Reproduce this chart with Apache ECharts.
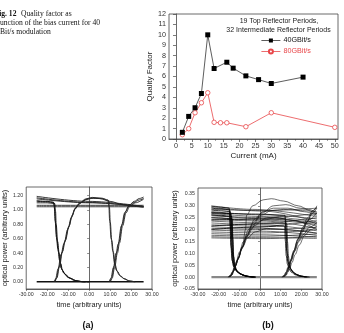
<!DOCTYPE html>
<html><head><meta charset="utf-8">
<script src="https://cdn.jsdelivr.net/npm/echarts@6/dist/echarts.min.js"></script>
<style>html,body{margin:0;padding:0;background:#fff;}#c{width:344px;height:333px;}</style>
</head><body><div id="c"></div>
<script>
// ---- Fig. 12 data ----
const currents40 = [2,4,6,8,10,12,16,18,22,26,30,40];
const quality40 = [0.64,2.17,3.0,4.37,10.0,6.77,7.37,6.8,6.06,5.7,5.33,5.94];
const currents80 = [2,4,6,8,10,12,14,16,22,30,50];
const quality80 = [0.41,0.99,2.52,3.48,4.44,1.6,1.56,1.56,1.18,2.52,1.12];
const currentTicks = [0,5,10,15,20,25,30,35,40,45,50];
const currentMinor = [2.5,7.5,12.5,17.5,22.5,27.5,32.5,37.5,42.5,47.5];
const timeTicks = [-30,-20,-10,0,10,20,30];
const powerTicksA = [0,0.2,0.4,0.6,0.8,1.0,1.2];
const powerTicksB = [-0.05,0,0.05,0.1,0.15,0.2,0.25,0.3,0.35];

// ---- eye diagram (a) traces: [time, power] ----
const eyeA_zero = [[[-25,0],[26,0]]];
const eyeA_high = [
 [[-25,1.19],[0,1.12],[26,1.05]],
 [[-25,1.17],[0,1.105],[26,1.04]],
 [[-25,1.155],[0,1.1],[26,1.05]],
 [[-25,1.065],[26,1.065]],
 [[-25,1.045],[26,1.045]]
];
const eyeA_fall = [
 [[-25,1.13],[-20,1.12],[-17,1.11],[-16.6,1.04],[-16.2,0.85],[-15.6,0.62],[-14.9,0.46],[-14.1,0.3],[-13.3,0.19],[-12,0.12],[-10,0.06],[-7,0.02],[-4,0.003],[-2,0]],
 [[-25,1.12],[-20,1.115],[-16.8,1.1],[-16.4,1.0],[-16.0,0.82],[-15.3,0.58],[-14.6,0.42],[-13.8,0.27],[-13,0.17],[-11.6,0.11],[-9.5,0.055],[-6.5,0.018],[-3.5,0.002],[-1.5,0]],
 [[-25,1.1],[-20,1.1],[-16.4,1.09],[-16.0,0.98],[-15.7,0.8],[-15,0.56],[-14.3,0.4],[-13.5,0.25],[-12.7,0.16],[-11.3,0.1],[-9,0.05],[-6,0.015],[-3,0.001],[-1,0]]
];
const eyeA_rise = [
 [[-16.8,0],[-16,0.04],[-14.8,0.18],[-13.4,0.38],[-12,0.53],[-10.2,0.73],[-8.5,0.89],[-7,1.0],[-5,1.08],[-2,1.14],[1,1.165],[5,1.16],[10,1.12],[16,1.075],[21,1.05],[26,1.04]],
 [[-16.4,0],[-15.6,0.05],[-14.4,0.2],[-13,0.4],[-11.6,0.56],[-9.8,0.76],[-8.2,0.91],[-6.7,1.02],[-4.5,1.1],[-1.5,1.155],[1.5,1.175],[6,1.165],[9,1.14],[9.4,1.06],[9.8,0.85],[10.5,0.6],[11.3,0.43],[12.1,0.26],[13,0.16],[14.5,0.09],[16.5,0.045],[19,0.013],[21.5,0]],
 [[-16.2,0],[-15.3,0.06],[-14.1,0.22],[-12.7,0.42],[-11.3,0.58],[-9.5,0.78],[-8,0.93],[-6.5,1.03],[-4,1.1],[-1,1.15],[2,1.165],[6.5,1.155],[9.3,1.13],[9.7,1.04],[10.1,0.83],[10.8,0.58],[11.6,0.41],[12.4,0.24],[13.4,0.15],[15,0.08],[17,0.04],[19.5,0.01],[22,0]],
 [[9.6,0],[10.4,0.05],[11.6,0.2],[12.9,0.4],[13.8,0.52],[15.4,0.78],[17,0.96],[18.8,1.05],[21,1.1],[24,1.14],[26,1.16]],
 [[10,0],[10.8,0.06],[12,0.22],[13.3,0.42],[14.2,0.55],[15.8,0.8],[17.4,0.98],[19.2,1.07],[21.5,1.12],[24,1.16],[26,1.18]],
 [[10.2,0],[11,0.05],[12.2,0.2],[13.5,0.4],[14.5,0.54],[16,0.78],[17.6,0.96],[19.4,1.05],[22,1.1],[26,1.15]]
];

// ---- eye diagram (b) traces ----
const eyeB_zero = [[[-23.5,0],[27.5,0]]];
const eyeB_high = [
 [[-23.5,0.300],[-3.5,0.285],[27.5,0.255]],
 [[-23.5,0.293],[1.5,0.278],[27.5,0.232]],
 [[-23.5,0.285],[1.5,0.280],[27.5,0.290]],
 [[-23.5,0.276],[1.5,0.262],[27.5,0.245]],
 [[-23.5,0.268],[1.5,0.255],[27.5,0.215]],
 [[-23.5,0.262],[1.5,0.245],[27.5,0.228]],
 [[-23.5,0.258],[1.5,0.250],[27.5,0.268]],
 [[-23.5,0.250],[1.5,0.240],[27.5,0.222]],
 [[-23.5,0.243],[1.5,0.236],[27.5,0.205]],
 [[-23.5,0.236],[1.5,0.228],[27.5,0.250]],
 [[-23.5,0.228],[1.5,0.220],[27.5,0.195]],
 [[-23.5,0.220],[1.5,0.214],[27.5,0.238]],
 [[-23.5,0.212],[1.5,0.205],[27.5,0.185]],
 [[-23.5,0.205],[1.5,0.200],[27.5,0.210]],
 [[-23.5,0.198],[1.5,0.193],[27.5,0.176]],
 [[-23.5,0.190],[1.5,0.186],[27.5,0.200]],
 [[-23.5,0.183],[1.5,0.178],[27.5,0.168]],
 [[-23.5,0.176],[1.5,0.172],[27.5,0.182]],
 [[-23.5,0.170],[1.5,0.166],[27.5,0.163]],
 [[-23.5,0.165],[1.5,0.162],[27.5,0.172]]
];
const eyeB_fall = [
 [[-23.5,0.298],[-18.5,0.294],[-14.9,0.29],[-14.5,0.22],[-14.1,0.13],[-13.5,0.07],[-12.8,0.045],[-11.7,0.028],[-10,0.015],[-7.5,0.006],[-4.5,0.001],[-2.5,0]],
 [[-23.5,0.290],[-18.5,0.287],[-14.6,0.283],[-14.2,0.2],[-13.8,0.12],[-13.2,0.065],[-12.5,0.04],[-11.3,0.025],[-9.5,0.013],[-7,0.005],[-4,0.001],[-2,0]],
 [[-23.5,0.282],[-18.5,0.279],[-14.3,0.275],[-13.9,0.19],[-13.5,0.11],[-12.9,0.06],[-12.1,0.037],[-10.9,0.022],[-9,0.011],[-6.5,0.004],[-3.5,0]],
 [[-23.5,0.272],[-18.5,0.27],[-14,0.265],[-13.6,0.18],[-13.2,0.1],[-12.6,0.055],[-11.8,0.034],[-10.5,0.02],[-8.5,0.01],[-6,0.003],[-3,0]],
 [[-23.5,0.262],[-18.5,0.26],[-13.7,0.255],[-13.3,0.17],[-12.9,0.09],[-12.3,0.05],[-11.5,0.03],[-10.1,0.017],[-8,0.008],[-5.5,0.002],[-2.5,0]],
 [[-23.5,0.25],[-18.5,0.249],[-13.5,0.245],[-13.1,0.16],[-12.7,0.085],[-12.1,0.048],[-11.3,0.028],[-9.8,0.015],[-7.5,0.006],[-5,0.001],[-2,0]],
 [[-23.5,0.27],[1.5,0.265],[12.1,0.26],[12.5,0.19],[12.9,0.11],[13.5,0.065],[14.3,0.04],[15.5,0.025],[17.3,0.012],[20,0.004],[22.5,0]],
 [[-23.5,0.24],[1.5,0.245],[12.4,0.245],[12.8,0.17],[13.2,0.1],[13.8,0.06],[14.6,0.037],[15.8,0.022],[17.7,0.01],[20.5,0.003],[23,0]],
 [[-23.5,0.215],[1.5,0.225],[12.9,0.225],[13.3,0.15],[13.7,0.09],[14.3,0.053],[15.1,0.032],[16.5,0.018],[18.5,0.008],[21.5,0.002],[24,0]],
 [[-23.5,0.2],[-3.5,0.21],[11.9,0.215],[12.3,0.15],[12.7,0.09],[13.3,0.054],[14.1,0.033],[15.3,0.02],[17,0.01],[19.5,0.003],[22,0]]
];
const eyeB_rise = [
 [[-15.5,0],[-14.5,0.006],[-13.5,0.02],[-12.5,0.04],[-11.5,0.065],[-10,0.105],[-8,0.15],[-5.5,0.2],[-2.5,0.245],[1.5,0.275],[6.5,0.29],[13.5,0.29],[21.5,0.275],[27.5,0.26]],
 [[-15,0],[-14,0.008],[-13,0.024],[-12,0.045],[-10.5,0.08],[-8.5,0.13],[-7,0.2],[-6.5,0.26],[-3.5,0.3],[1.5,0.325],[5.5,0.33],[11.5,0.32],[18.5,0.3],[23.5,0.285],[27.5,0.27]],
 [[-15.3,0],[-14.3,0.007],[-13.3,0.022],[-12.3,0.042],[-11,0.07],[-9,0.115],[-7,0.16],[-4.5,0.2],[-1.5,0.23],[3.5,0.25],[9.5,0.255],[16.5,0.245],[27.5,0.225]],
 [[-14.7,0],[-13.7,0.008],[-12.7,0.025],[-11.7,0.05],[-10.5,0.08],[-8.5,0.125],[-6,0.175],[-3,0.215],[1.5,0.24],[7.5,0.25],[15.5,0.24],[27.5,0.2]],
 [[-15.1,0],[-14.1,0.006],[-13.1,0.021],[-12.1,0.043],[-10.8,0.072],[-8.8,0.12],[-6.5,0.17],[-3.5,0.22],[0.5,0.26],[5.5,0.28],[11.5,0.285],[19.5,0.28],[27.5,0.275]],
 [[-14.5,0],[-13.5,0.01],[-12.5,0.03],[-11.5,0.055],[-10.3,0.085],[-8.3,0.13],[-6,0.165],[-2.5,0.19],[3.5,0.205],[11.5,0.2],[27.5,0.185]],
 [[-14.9,0],[-13.9,0.007],[-12.9,0.023],[-11.9,0.046],[-10.6,0.078],[-8.6,0.127],[-6.3,0.18],[-3.3,0.23],[1,0.27],[6.5,0.3],[12.5,0.305],[19.5,0.29],[27.5,0.265]],
 [[10.5,0],[11.5,0.006],[12.5,0.02],[13.5,0.04],[14.5,0.065],[16,0.1],[18,0.15],[20,0.19],[22.5,0.23],[25,0.265],[27.5,0.29]],
 [[11,0],[12,0.006],[13,0.02],[14,0.042],[15,0.068],[16.5,0.105],[18.5,0.15],[20.5,0.19],[23,0.235],[25.5,0.275],[27.5,0.3]],
 [[10.8,0],[11.8,0.007],[12.8,0.022],[13.8,0.044],[14.8,0.07],[16.3,0.11],[18.3,0.16],[20.5,0.2],[23.5,0.24],[27.5,0.27]],
 [[11.3,0],[12.3,0.007],[13.3,0.022],[14.3,0.045],[15.3,0.072],[16.8,0.11],[18.8,0.15],[21,0.18],[24,0.21],[27.5,0.23]],
 [[11.5,0],[12.5,0.006],[13.5,0.02],[14.5,0.04],[15.5,0.062],[17,0.095],[19,0.135],[21.5,0.175],[24.5,0.2],[27.5,0.215]],
 [[11.1,0],[12.1,0.007],[13.1,0.023],[14.1,0.046],[15.1,0.075],[16.6,0.115],[18.6,0.165],[20.7,0.21],[23.1,0.25],[25.5,0.28],[27.5,0.295]]
];

const FONT = 'Liberation Sans, Arial, sans-serif';
const SERIF = 'Liberation Serif, Times New Roman, serif';
const AX = '#444';

function traces(list, gi, color, width, z) {
  return list.map(d => ({
    type: 'line', xAxisIndex: gi, yAxisIndex: gi, data: d, showSymbol: false,
    smooth: 0.35, smoothMonotone: 'x', silent: true, z: z || 2,
    lineStyle: { color: color, width: width }
  }));
}
function fix2(v) { return v.toFixed(2); }

function eyeX(gi) {
  return { gridIndex: gi, type: 'value', min: -30, max: 30, interval: 10,
    axisLine: { show: true, onZero: false, lineStyle: { color: AX, width: 0.8 } },
    axisTick: { show: true, length: 2, lineStyle: { color: AX, width: 0.6 } },
    axisLabel: { fontSize: 5.3, color: '#333', fontFamily: FONT, margin: 3, formatter: fix2 },
    splitLine: { show: false },
    name: 'time (arbitrary units)', nameLocation: 'middle', nameGap: 12,
    nameTextStyle: { fontSize: 7.3, color: '#222', fontFamily: FONT } };
}

const series = [
  { name: '40GBit/s', type: 'line', xAxisIndex: 0, yAxisIndex: 0,
    data: currents40.map((c, i) => [c, quality40[i]]),
    symbol: 'rect', symbolSize: 5, itemStyle: { color: '#000' },
    lineStyle: { color: '#333', width: 0.8 }, z: 5 },
  { name: '80GBit/s', type: 'line', xAxisIndex: 0, yAxisIndex: 0,
    data: currents80.map((c, i) => [c, quality80[i]]),
    symbol: 'circle', symbolSize: 4.5, itemStyle: { color: '#fff', borderColor: '#e8474a', borderWidth: 0.8 },
    lineStyle: { color: '#e8474a', width: 0.8 }, z: 4 }
]
.concat(traces(eyeA_zero, 2, '#111', 1.6))
.concat(traces(eyeA_high, 2, '#222', 0.9))
.concat(traces(eyeA_fall, 2, '#111', 0.9))
.concat(traces(eyeA_rise, 2, '#222', 0.9))
.concat(traces(eyeB_zero, 3, '#888', 2.4, 1))
.concat(traces(eyeB_high, 3, '#111', 0.6))
.concat(traces(eyeB_fall, 3, '#000', 0.8))
.concat(traces(eyeB_rise, 3, '#111', 0.6));

const option = {
  animation: false,
  backgroundColor: '#fff',
  textStyle: { fontFamily: FONT },
  grid: [
    { left: 169, top: 14, width: 169, height: 125, show: true, borderColor: AX, borderWidth: 0.8 },
    { left: 169, top: 14, width: 169, height: 125 },
    { left: 26, top: 187, width: 126, height: 102, show: true, borderColor: AX, borderWidth: 0.8 },
    { left: 198, top: 188, width: 124, height: 101, show: true, borderColor: AX, borderWidth: 0.8 }
  ],
  xAxis: [
    { gridIndex: 0, type: 'value', min: -2.2, max: 51,
      axisLine: { show: true, onZero: false, lineStyle: { color: AX, width: 0.8 } },
      axisTick: { show: true, length: 3, customValues: currentTicks, lineStyle: { color: AX, width: 0.7 } },
      axisLabel: { fontSize: 7.2, color: '#333', margin: 4, customValues: currentTicks },
      splitLine: { show: false },
      name: 'Current (mA)', nameLocation: 'middle', nameGap: 13,
      nameTextStyle: { fontSize: 8, color: '#222' } },
    { gridIndex: 1, type: 'value', min: -2.2, max: 51,
      axisLine: { show: false }, axisLabel: { show: false }, splitLine: { show: false },
      axisTick: { show: true, length: 1.8, customValues: currentMinor, lineStyle: { color: AX, width: 0.6 } } },
    eyeX(2), eyeX(3)
  ],
  yAxis: [
    { gridIndex: 0, type: 'value', min: 0, max: 12, interval: 1,
      axisLine: { show: true, lineStyle: { color: AX, width: 0.8 } },
      axisTick: { show: true, length: 3, lineStyle: { color: AX, width: 0.7 } },
      axisLabel: { fontSize: 7.2, color: '#333', margin: 3 },
      splitLine: { show: false },
      name: 'Quality Factor', nameLocation: 'middle', nameGap: 15,
      nameTextStyle: { fontSize: 8, color: '#222' } },
    { gridIndex: 1, type: 'value', min: 0, max: 12, show: false, splitLine: { show: false } },
    { gridIndex: 2, type: 'value', min: -0.1, max: 1.32,
      axisLine: { show: true, lineStyle: { color: AX, width: 0.8 } },
      axisTick: { show: true, length: 2, customValues: powerTicksA, lineStyle: { color: AX, width: 0.6 } },
      axisLabel: { fontSize: 5.3, color: '#333', margin: 3, customValues: powerTicksA, formatter: fix2 },
      splitLine: { show: false },
      name: 'optical power (arbitrary units)', nameLocation: 'middle', nameGap: 14,
      nameTextStyle: { fontSize: 7.5, color: '#222' } },
    { gridIndex: 3, type: 'value', min: -0.05, max: 0.375,
      axisLine: { show: true, lineStyle: { color: AX, width: 0.8 } },
      axisTick: { show: true, length: 2, customValues: powerTicksB, lineStyle: { color: AX, width: 0.6 } },
      axisLabel: { fontSize: 5.3, color: '#333', margin: 3, customValues: powerTicksB, formatter: fix2 },
      splitLine: { show: false },
      name: 'optical power (arbitrary units)', nameLocation: 'middle', nameGap: 14,
      nameTextStyle: { fontSize: 7.5, color: '#222' } }
  ],
  legend: {
    data: [{ name: '40GBit/s', textStyle: { color: '#111' } }, { name: '80GBit/s', textStyle: { color: '#e8474a' } }],
    orient: 'vertical', left: 261, top: 37, itemWidth: 19, itemHeight: 5, itemGap: 4,
    lineStyle: { width: 0.8 },
    textStyle: { fontSize: 7.2, fontFamily: FONT, padding: [0, 0, 0, -2] }, padding: 0, selectedMode: false
  },
  graphic: [
    { type: 'text', x: -5.5, y: 14, style: { text: 'Fig. 12', font: 'bold 7.6px ' + SERIF, fill: '#111', verticalAlign: 'middle' } },
    { type: 'text', x: 21, y: 14, style: { text: 'Quality factor as', font: '7.6px ' + SERIF, fill: '#111', verticalAlign: 'middle' } },
    { type: 'text', x: -2.5, y: 23, style: { text: 'function of the bias current for 40', font: '7.6px ' + SERIF, fill: '#111', verticalAlign: 'middle' } },
    { type: 'text', x: -5.5, y: 32, style: { text: 'GBit/s modulation', font: '7.6px ' + SERIF, fill: '#111', verticalAlign: 'middle' } },
    { type: 'text', x: 279, y: 21, style: { text: '19 Top Reflector Periods,', font: '7px ' + FONT, fill: '#222', align: 'center', verticalAlign: 'middle' } },
    { type: 'text', x: 278.5, y: 30, style: { text: '32 Intermediate Reflector Periods', font: '7px ' + FONT, fill: '#222', align: 'center', verticalAlign: 'middle' } },
    { type: 'text', x: 88, y: 326, style: { text: '(a)', font: 'bold 9px ' + FONT, fill: '#111', align: 'center', verticalAlign: 'middle' } },
    { type: 'text', x: 268, y: 326, style: { text: '(b)', font: 'bold 9px ' + FONT, fill: '#111', align: 'center', verticalAlign: 'middle' } }
  ],
  series: series
};
const chart = echarts.init(document.getElementById('c'), null, { renderer: 'canvas' });
chart.setOption(option);
</script></body></html>
